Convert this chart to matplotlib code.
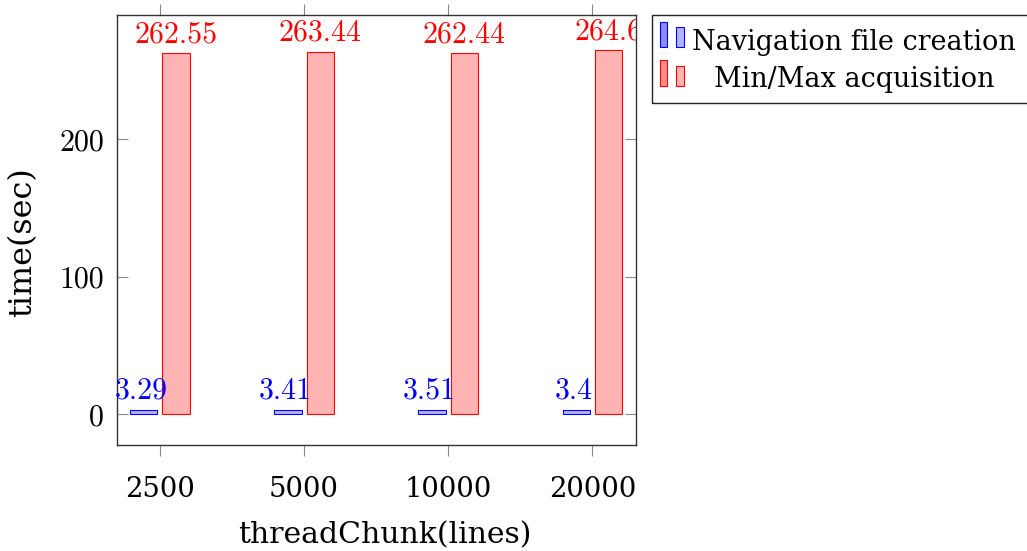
import matplotlib
matplotlib.use("Agg")
import matplotlib.pyplot as plt
from matplotlib.patches import Rectangle
import numpy as np

categories = ['2500', '5000', '10000', '20000']
nav_values = [3.29, 3.41, 3.51, 3.4]
minmax_values = [262.55, 263.44, 262.44, 264.6]
series_names = ['Navigation file creation', 'Min/Max acquisition']
yticks = [0, 100, 200]

W, H = 1027, 551
plt.rcParams['axes.unicode_minus'] = False
fig = plt.figure(figsize=(W / 100, H / 100), dpi=100)

def fx(px):
    return px / W

def fy(py):
    return 1 - py / H

ax = fig.add_axes([fx(116.7), fy(445.3), fx(635.7) - fx(116.7), fy(14.7) - fy(445.3)])

x = np.arange(len(categories))
bw = 0.19
off = 0.112
blue_fill, red_fill = '#b3b3ff', '#ffb3b3'
ax.bar(x - off, nav_values, bw, color=blue_fill, edgecolor='blue', linewidth=0.8, zorder=2)
ax.bar(x + off, minmax_values, bw, color=red_fill, edgecolor='red', linewidth=0.8, zorder=2)

numfont = dict(family='cmr10', size=21.5)
lab_font = 'DejaVu Serif'
for xi, v in zip(x, nav_values):
    ax.annotate(f'{v:g}', (xi - off - 0.02, v), xytext=(0, 8), textcoords='offset points',
                ha='center', va='baseline', color='blue', annotation_clip=False,
                clip_on=False, **numfont)
for xi, v in zip(x, minmax_values):
    ax.annotate(f'{v:g}', (xi + off, v), xytext=(0, 8), textcoords='offset points',
                ha='center', va='baseline', color='red', clip_on=True, **numfont)

ax.set_xlim(-0.3, 3.3)
ax.set_ylim(-22.5, 290.6)
ax.set_xticks(x)
ax.set_xticklabels(categories, family=lab_font, size=19.7)
ax.set_yticks(yticks)
ax.set_yticklabels([str(t) for t in yticks], **numfont)
ax.tick_params(axis='x', direction='out', top=True, length=8, width=0.8, color='#888888', pad=14)
ax.tick_params(axis='y', direction='in', right=True, length=8, width=0.8, color='#888888', pad=9)
for s in ax.spines.values():
    s.set_color('#333333')
    s.set_linewidth(1.0)

# axis labels
xl = fig.text(fx(385), fy(543), 'threadChunk(lines)', ha='center', va='baseline',
              family=lab_font, size=18)
yl = fig.text(fx(23), fy(242), 'time(sec)', ha='center', va='center', rotation=90,
              family=lab_font, size=18)

# legend (manual, pgfplots style)
fig.patches.append(Rectangle((fx(651.7), fy(102.7)), fx(1040) - fx(651.7), fy(15) - fy(102.7),
                             transform=fig.transFigure, fill=False, edgecolor='#222222',
                             linewidth=1.0))
def lbar(x0, x1, y0, y1, fc, ec):
    fig.patches.append(Rectangle((fx(x0), fy(y1)), fx(x1) - fx(x0), fy(y0) - fy(y1),
                                 transform=fig.transFigure, facecolor=fc, edgecolor=ec,
                                 linewidth=0.8))
lbar(660, 666.7, 22.3, 46.7, '#8c8cff', 'blue')
lbar(676, 684, 27.3, 46.7, blue_fill, 'blue')
lbar(660, 666.7, 60, 86, '#ff8c8c', 'red')
lbar(676, 684, 66, 86, red_fill, 'red')
t1 = fig.text(fx(854), fy(50), series_names[0], ha='center', va='baseline',
              family=lab_font, size=18)
t2 = fig.text(fx(854), fy(87), series_names[1], ha='center', va='baseline',
              family=lab_font, size=18)

fig.canvas.draw()
r = fig.canvas.get_renderer()
def fit(t, target, dim='width'):
    bb = t.get_window_extent(r)
    w = bb.width if dim == 'width' else bb.height
    t.set_fontsize(t.get_fontsize() * target / w)
fit(xl, 294)
fit(t1, 325)
t2.set_fontsize(t1.get_fontsize())
fit(yl, 150, dim='height')

fig.savefig('out.png', dpi=100)
